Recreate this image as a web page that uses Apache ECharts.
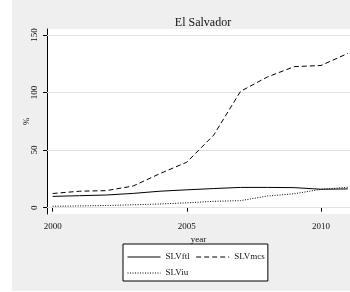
<!DOCTYPE html>
<html>
<head>
<meta charset="utf-8">
<script src="https://cdn.jsdelivr.net/npm/echarts@6/dist/echarts.min.js"></script>
<style>
  html, body { margin: 0; padding: 0; background: #fff; }
  #main { width: 350px; height: 292px; }
</style>
</head>
<body>
<div id="main"></div>
<script>
// 数据
var years = [2000, 2001, 2002, 2003, 2004, 2005, 2006, 2007, 2008, 2009, 2010, 2011];
var slvFtl = [9.8, 10.4, 11.0, 12.4, 14.3, 15.5, 16.6, 17.6, 17.6, 17.4, 16.0, 16.3];
var slvMcs = [12.3, 14.3, 14.8, 18.8, 29.6, 39.5, 63.0, 101.0, 113.5, 122.5, 123.5, 134.0];
var slvIu = [1.2, 1.5, 1.9, 2.5, 3.2, 4.2, 5.5, 6.1, 10.1, 12.1, 15.9, 17.8];
var xTicks = [2000, 2005, 2010];
var yTicks = [0, 50, 100, 150];

var font = 'Liberation Serif';

function pairs(vals) {
    var out = [];
    for (var i = 0; i < years.length; i++) {
        out.push([years[i], vals[i]]);
    }
    return out;
}

var chart = echarts.init(document.getElementById('main'));

chart.setOption({
    animation: false,
    backgroundColor: 'transparent',
    textStyle: { fontFamily: font },
    graphic: [{
        type: 'rect',
        z: -10,
        shape: { x: 12, y: 0, width: 338, height: 291 },
        style: { fill: '#efefef' }
    }],
    title: {
        text: 'El Salvador',
        left: 198, top: 12, textAlign: 'center',
        textStyle: { fontFamily: font, fontSize: 12, fontWeight: 'normal', color: '#111' }
    },
    grid: {
        left: 47, top: 29, width: 303, height: 185,
        show: true, backgroundColor: '#fff', borderWidth: 0
    },
    xAxis: {
        type: 'value',
        min: 1999.79, max: 2011.08,
        name: 'year', nameLocation: 'middle', nameGap: 21, nameMoveOverlap: false,
        nameTextStyle: { fontFamily: font, fontSize: 9, color: '#111' },
        axisLine: { show: true, lineStyle: { color: '#000', width: 1 } },
        axisTick: { show: true, customValues: xTicks, length: 4, lineStyle: { color: '#000' } },
        axisLabel: {
            customValues: xTicks, fontFamily: font, fontSize: 9, color: '#111', margin: 8,
            formatter: function (v) { return String(v); }
        },
        splitLine: { show: false }
    },
    yAxis: {
        type: 'value',
        min: -5.5, max: 155.2,
        name: '%', nameLocation: 'middle', nameGap: 16, nameRotate: 90, nameMoveOverlap: false,
        nameTextStyle: { fontFamily: font, fontSize: 9, color: '#111' },
        axisLine: { show: true, lineStyle: { color: '#000', width: 1 } },
        axisTick: { show: true, customValues: yTicks, length: 4, lineStyle: { color: '#000' } },
        axisLabel: { customValues: yTicks, rotate: 90, fontFamily: font, fontSize: 9, color: '#111', margin: 8 },
        splitLine: { show: false }
    },
    legend: {
        left: 123, top: 244,
        width: 150,
        padding: [8, 3, 3, 4],
        itemWidth: 33, itemHeight: 8, itemGap: 6,
        backgroundColor: '#fff',
        borderColor: '#000', borderWidth: 1, borderRadius: 0,
        itemStyle: { opacity: 0 },
        lineStyle: { width: 1 },
        textStyle: { fontFamily: font, fontSize: 9, color: '#111', lineHeight: 10 },
        data: ['SLVftl', 'SLVmcs', 'SLViu']
    },
    series: [{
        name: 'SLVftl', type: 'line', data: pairs(slvFtl),
        symbol: 'none',
        lineStyle: { color: '#000', width: 1, type: 'solid' },
        itemStyle: { color: '#000' },
        markLine: {
            silent: true, symbol: 'none', label: { show: false },
            lineStyle: { color: '#e2e2e2', width: 1, type: 'solid' },
            data: yTicks.map(function (v) { return { yAxis: v }; }),
            z: 1
        }
    }, {
        name: 'SLVmcs', type: 'line', data: pairs(slvMcs),
        symbol: 'none',
        lineStyle: { color: '#000', width: 1, type: [5, 3] },
        itemStyle: { color: '#000' }
    }, {
        name: 'SLViu', type: 'line', data: pairs(slvIu),
        symbol: 'none',
        lineStyle: { color: '#000', width: 1, type: [1, 1.5] },
        itemStyle: { color: '#000' }
    }]
});
</script>
</body>
</html>
